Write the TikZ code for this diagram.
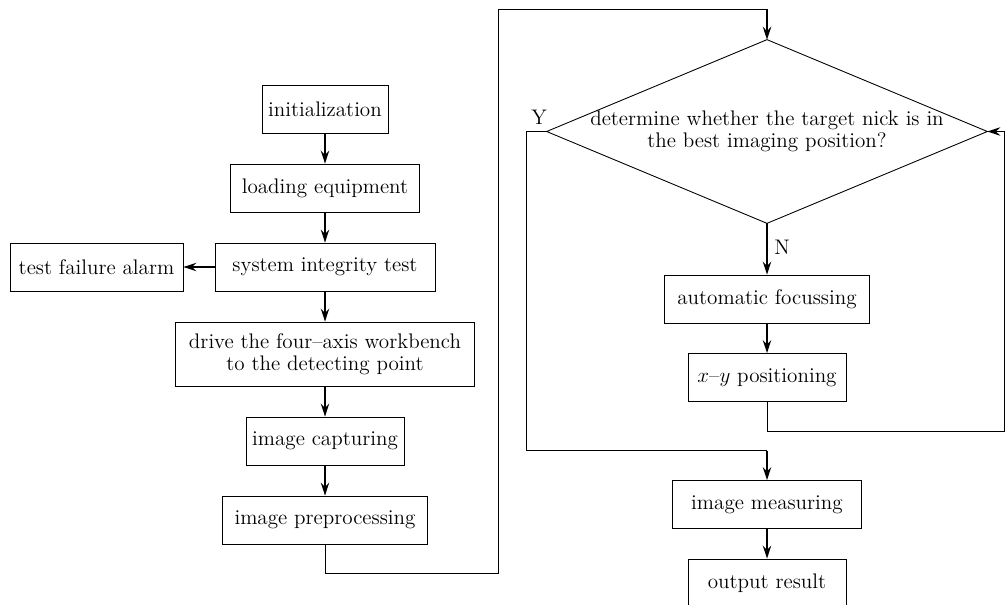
\documentclass[tikz,border=0pt]{standalone}
\usetikzlibrary{arrows.meta}
\begin{document}
\begin{tikzpicture}[font=\fontsize{12}{12.5}\selectfont,
    box/.style={rectangle,draw,line width=0.5pt,inner sep=2pt,minimum height=0.96cm},
    decision/.style={rectangle,inner sep=0pt,minimum width=8.8cm,minimum height=3.66cm,align=center},
    flow/.style={-{Stealth[length=2.6mm,width=1.7mm,inset=0.9mm]},line width=0.9pt},
    wire/.style={line width=0.5pt}]
    \useasboundingbox (0,0) rectangle (20.12,-12.1);

    % Left column
    \node[box,minimum width=2.52cm] (init) at (6.5,-2.19) {initialization};
    \node[box,minimum width=3.78cm] (load) at (6.5,-3.76) {loading equipment};
    \node[box,minimum width=4.4cm] (test) at (6.5,-5.34) {system integrity test};
    \node[box,minimum width=3.46cm] (alarm) at (1.93,-5.34) {test failure alarm};
    \node[box,minimum width=5.98cm,minimum height=1.28cm,align=center] (drive) at (6.5,-7.08) {drive the four--axis workbench\\to the detecting point};
    \node[box,minimum width=3.16cm] (capt) at (6.5,-8.82) {image capturing};
    \node[box,minimum width=4.1cm] (prep) at (6.5,-10.4) {image preprocessing};

    % Right column
    \node[decision] (judge) at (15.34,-2.63) {determine whether the target nick is in\\the best imaging position?};
    \draw[wire] (judge.north) -- (judge.east) -- (judge.south) -- (judge.west) -- cycle;
    \node[box,minimum width=4.1cm] (focus) at (15.34,-5.98) {automatic focussing};
    \node[box,minimum width=3.16cm] (xy) at (15.34,-7.55) {$x$--$y$ positioning};
    \node[box,minimum width=3.78cm] (meas) at (15.34,-10.09) {image measuring};
    \node[box,minimum width=3.16cm] (out) at (15.34,-11.66) {output result};

    % Labels
    \node (ylab) at (10.78,-2.34) {Y};
    \node (nlab) at (15.64,-4.94) {N};

    % Corner points
    \coordinate (c1) at (6.5,-11.46);
    \coordinate (c2) at (9.97,-11.46);
    \coordinate (c3) at (9.97,-0.19);
    \coordinate (c4) at (15.34,-0.19);
    \coordinate (c5) at (10.53,-2.63);
    \coordinate (c6) at (10.53,-9.01);
    \coordinate (c7) at (15.34,-9.01);
    \coordinate (c8) at (15.34,-8.62);
    \coordinate (c9) at (20.08,-8.62);
    \coordinate (c10) at (20.08,-2.63);

    % Arrows
    \draw[flow] (init) -- (load);
    \draw[flow] (load) -- (test);
    \draw[flow] (test) -- (alarm);
    \draw[flow] (test) -- (drive);
    \draw[flow] (drive) -- (capt);
    \draw[flow] (capt) -- (prep);
    \draw[wire] (prep.south) -- (c1) -- (c2) -- (c3) -- (c4);
    \draw[flow] (c4) -- (judge.north);
    \draw[flow] (judge.south) -- (focus);
    \draw[flow] (focus) -- (xy);
    \draw[wire] (xy.south) -- (c8) -- (c9) -- (c10);
    \draw[flow] (c10) -- (judge.east);
    \draw[wire] (judge.west) -- (c5) -- (c6) -- (c7);
    \draw[flow] (c7) -- (meas);
    \draw[flow] (meas) -- (out);
\end{tikzpicture}
\end{document}
